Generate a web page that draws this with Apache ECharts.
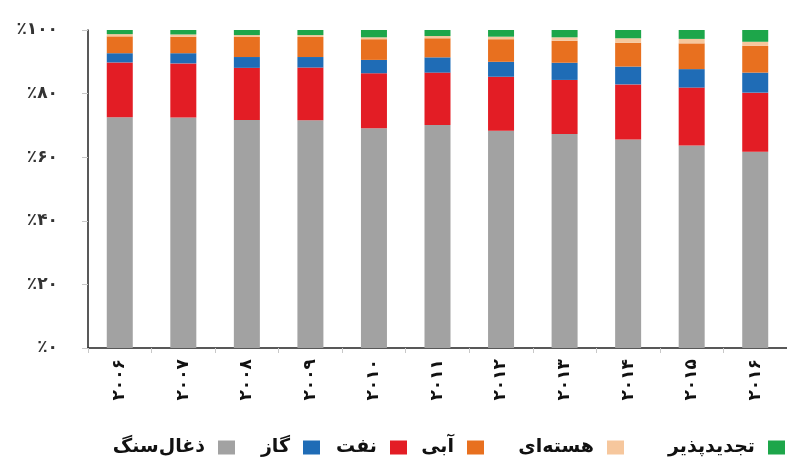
<!DOCTYPE html>
<html>
<head>
<meta charset="utf-8">
<script src="https://cdn.jsdelivr.net/npm/echarts@6/dist/echarts.min.js"></script>
<style>
  html, body { margin: 0; padding: 0; background: #fff; }
  #chart { width: 787px; height: 457px; }
</style>
</head>
<body>
<div id="chart"></div>
<script>
// Years (Persian digits) along the category axis
const years = ['۲۰۰۶', '۲۰۰۷', '۲۰۰۸', '۲۰۰۹', '۲۰۱۰', '۲۰۱۱', '۲۰۱۲', '۲۰۱۳', '۲۰۱۴', '۲۰۱۵', '۲۰۱۶'];

// Percentage tick labels for the value axis, 0..100 step 20
const yTickValues = [0, 20, 40, 60, 80, 100];
const yTickLabels = ['٪۰', '٪۲۰', '٪۴۰', '٪۶۰', '٪۸۰', '٪۱۰۰'];

// Share of each source per year (%), stacked bottom to top
const coal      = [72.6, 72.5, 71.7, 71.6, 69.1, 70.1, 68.3, 67.3, 65.6, 63.7, 61.7];
const oil       = [17.2, 17.0, 16.4, 16.6, 17.3, 16.5, 17.0, 17.0, 17.3, 18.2, 18.6];
const gas       = [2.9, 3.2, 3.4, 3.3, 4.2, 4.8, 4.7, 5.4, 5.6, 5.8, 6.3];
const hydro     = [5.3, 5.2, 6.3, 6.3, 6.5, 6.0, 7.1, 6.9, 7.5, 8.1, 8.4];
const nuclear   = [0.7, 0.7, 0.6, 0.6, 0.6, 0.7, 0.8, 1.1, 1.4, 1.4, 1.3];
const renewable = [1.3, 1.4, 1.6, 1.6, 2.3, 1.9, 2.1, 2.3, 2.6, 2.8, 3.7];

// Source names as shown in the legend
const nameCoal = 'ذغال\u200cسنگ';
const nameGas = 'گاز';
const nameOil = 'نفت';
const nameHydro = 'آبی';
const nameNuclear = 'هسته\u200cای';
const nameRenewable = 'تجدیدپذیر';

// Legend entries, read right to left: swatch sits to the right of its name
const legendNames = [nameCoal, nameGas, nameOil, nameHydro, nameNuclear, nameRenewable];
const legendRight = [552, 467, 380, 303, 163, 2];

const FONT = '"DejaVu Sans", "Noto Sans", sans-serif';

const chart = echarts.init(document.getElementById('chart'), null, { renderer: 'canvas' });

function stackSeries(name, data, color) {
  return {
    name: name,
    type: 'bar',
    stack: 'share',
    barWidth: 26,
    data: data,
    itemStyle: { color: color },
    emphasis: { disabled: true }
  };
}

const legends = legendNames.map(function (n, i) {
  return {
    right: legendRight[i],
    top: 438,
    padding: 0,
    align: 'right',
    icon: 'rect',
    itemWidth: 17,
    itemHeight: 14,
    selectedMode: false,
    textStyle: {
      fontFamily: FONT,
      fontWeight: 'bold',
      fontSize: 19,
      lineHeight: 14,
      color: '#111',
      padding: [0, 8, 0, 0]
    },
    data: [n]
  };
});

chart.setOption({
  animation: false,
  backgroundColor: '#ffffff',
  grid: { left: 88, top: 30, width: 704, height: 318, containLabel: false },
  legend: legends,
  xAxis: {
    type: 'category',
    data: years,
    axisLine: { show: true, lineStyle: { color: '#222', width: 1.5 } },
    axisTick: { show: true, length: 5, lineStyle: { color: '#c8c8c8' } },
    axisLabel: {
      rotate: 90,
      margin: 11,
      fontFamily: FONT,
      fontWeight: 'bold',
      fontSize: 17,
      color: '#111'
    },
    splitLine: { show: false }
  },
  yAxis: {
    type: 'value',
    min: 0,
    max: 100,
    interval: 20,
    axisLine: { show: true, lineStyle: { color: '#222', width: 1.5 } },
    axisTick: { show: true, length: 6, lineStyle: { color: '#c8c8c8' } },
    axisLabel: {
      margin: 30,
      fontFamily: FONT,
      fontWeight: 'bold',
      fontSize: 17,
      color: '#333',
      formatter: function (v) {
        const i = yTickValues.indexOf(v);
        return i >= 0 ? yTickLabels[i] : '';
      }
    },
    splitLine: { show: false }
  },
  series: [
    stackSeries(nameCoal, coal, '#a2a2a2'),
    stackSeries(nameOil, oil, '#e31d25'),
    stackSeries(nameGas, gas, '#1f6cb6'),
    stackSeries(nameHydro, hydro, '#e8701f'),
    stackSeries(nameNuclear, nuclear, '#f6c79d'),
    stackSeries(nameRenewable, renewable, '#1da64a')
  ]
});
</script>
</body>
</html>
